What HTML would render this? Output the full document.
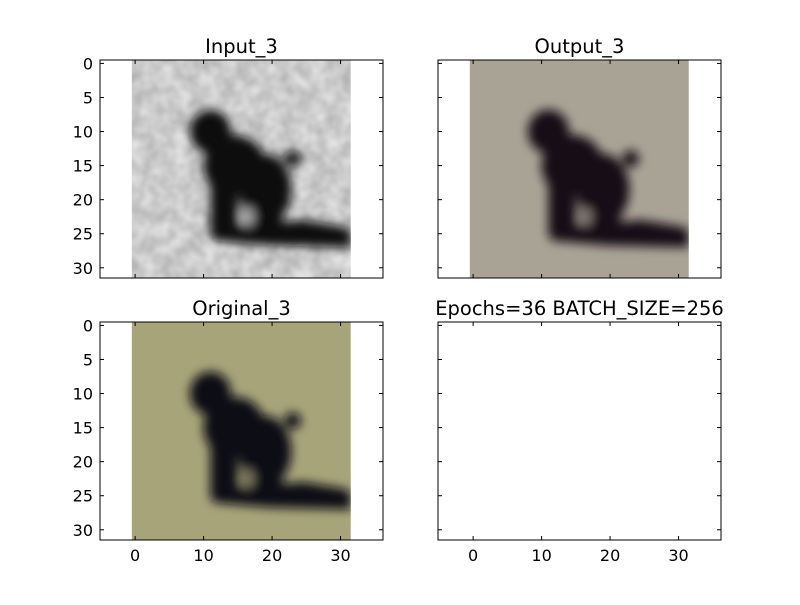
<!DOCTYPE html>
<html><head><meta charset="utf-8"><style>
body{margin:0;background:#fff;}
text{font-family:"DejaVu Sans","Liberation Sans",sans-serif;}
</style></head><body>
<svg id="fig" width="800" height="600" xmlns="http://www.w3.org/2000/svg">
<defs>
<filter id="blur" x="-20%" y="-20%" width="140%" height="140%"><feGaussianBlur stdDeviation="0.75"/></filter>
<filter id="noise" x="0" y="0" width="100%" height="100%"><feTurbulence type="fractalNoise" baseFrequency="0.45" numOctaves="2" seed="3"/><feColorMatrix type="matrix" values="0 0 0 0 0  0 0 0 0 0  0 0 0 0 0  0 0 0 0.3 -0.05"/><feComposite in2="SourceGraphic" operator="in"/></filter>
<clipPath id="imgclip"><rect x="0" y="0" width="32" height="32"/></clipPath>
</defs>
</svg>
<script>
const panels = [
  {name:'input', title:'Input_3', x0:100, y0:60, bg:'#e2e2e2', dog:'#111', img:true, noise:true, xl:false, yl:true},
  {name:'output', title:'Output_3', x0:438, y0:60, bg:'#a9a396', dog:'#141016', img:true, noise:false, xl:false, yl:false},
  {name:'original', title:'Original_3', x0:100, y0:322, bg:'#a7a47a', dog:'#101018', img:true, noise:false, xl:true, yl:true},
  {name:'empty', title:'Epochs=36 BATCH_SIZE=256', x0:438, y0:322, img:false, xl:true, yl:false}
];
const xTicks = [0,10,20,30];
const yTicks = [0,5,10,15,20,25,30];
const xMin = -5.13, xMax = 36.2, yMin = -0.5, yMax = 31.5;
const W = 283, H = 218;
const svg = document.getElementById('fig');
const NS = 'http://www.w3.org/2000/svg';
function mk(tag, attrs, parent){const e=document.createElementNS(NS,tag);for(const k in attrs)e.setAttribute(k,attrs[k]);(parent||svg).appendChild(e);return e;}
panels.forEach(p=>{
  const sx = v => p.x0 + (v - xMin) / (xMax - xMin) * W;
  const sy = v => p.y0 + (v - yMin) / (yMax - yMin) * H;
  const g = mk('g',{});
  
  
  if (p.img) {
    const kx = (sx(31.5)-sx(-0.5))/32, ky = (sy(31.5)-sy(-0.5))/32;
    const ig = mk('g',{transform:`translate(${sx(-0.5)},${sy(-0.5)}) scale(${kx},${ky})`, 'clip-path':'url(#imgclip)'}, g);
    
    
    mk('rect',{x:0,y:0,width:32,height:32,fill:p.bg},ig);
    if (p.noise) mk('rect',{x:0,y:0,width:32,height:32,fill:'#000',filter:'url(#noise)'},ig);
    const d = mk('g',{fill:p.dog, filter:'url(#blur)'}, ig);
    mk('ellipse',{cx:11.5,cy:10.5,rx:3,ry:3.2},d);
    mk('ellipse',{cx:15,cy:15.5,rx:4.5,ry:4.5},d);
    mk('ellipse',{cx:19.5,cy:19,rx:3.8,ry:5.2},d);
    mk('rect',{x:11.5,y:14,width:4,height:12},d);
    mk('rect',{x:16,y:19,width:6,height:7},d);
    mk('circle',{cx:23.5,cy:14.5,r:1.2},d);
    mk('polygon',{points:'12,25 20,24 25,23.5 31,24.5 32,25 32,27.5 20,27.2 12,26.5'},d);
    mk('ellipse',{cx:17,cy:23,rx:0.9,ry:1.4,fill:p.bg,opacity:0.7},d);
  }
  mk('rect',{x:p.x0,y:p.y0,width:W,height:H,fill:'none',stroke:'#000','stroke-width':1},g);
  const t = mk('text',{x:p.x0+W/2,y:p.y0-7,'text-anchor':'middle','font-size':19.5},g);
  t.textContent = p.title;
  
  
  xTicks.forEach(v=>{
    const x = sx(v);
    mk('line',{x1:x,y1:p.y0+H,x2:x,y2:p.y0+H-4,stroke:'#000'},g);
    mk('line',{x1:x,y1:p.y0,x2:x,y2:p.y0+4,stroke:'#000'},g);
    if (p.xl) {
      const l = mk('text',{x:x,y:p.y0+H+21,'text-anchor':'middle','font-size':16},g);
      l.textContent = v;
      
      
    }
  });
  yTicks.forEach(v=>{
    const y = sy(v);
    mk('line',{x1:p.x0,y1:y,x2:p.x0+4,y2:y,stroke:'#000'},g);
    mk('line',{x1:p.x0+W,y1:y,x2:p.x0+W-4,y2:y,stroke:'#000'},g);
    if (p.yl) {
      const l = mk('text',{x:p.x0-7,y:y+6,'text-anchor':'end','font-size':16},g);
      l.textContent = v;
      
      
    }
  });
});
</script>
</body></html>
